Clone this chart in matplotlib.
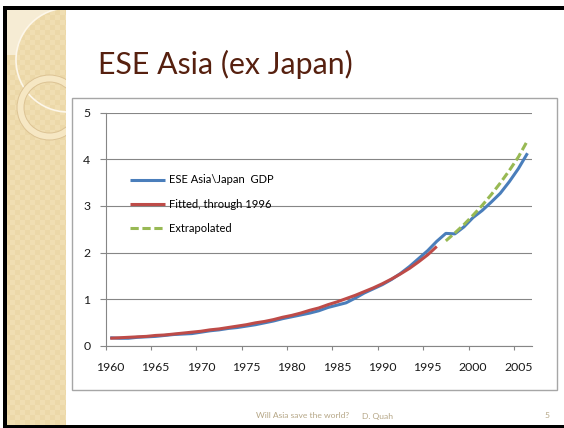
import numpy as np
import matplotlib.pyplot as plt
from matplotlib.patches import Rectangle, Circle, Wedge

# GDP index, ESE Asia excluding Japan, 1960-2006
years = np.arange(1960, 2007)
gdp = [0.17, 0.16, 0.16, 0.18, 0.19, 0.20, 0.22, 0.24, 0.25, 0.26,
       0.29, 0.32, 0.34, 0.37, 0.39, 0.42, 0.45, 0.49, 0.53, 0.58,
       0.62, 0.66, 0.70, 0.75, 0.82, 0.87, 0.92, 1.02, 1.13, 1.22,
       1.31, 1.42, 1.55, 1.70, 1.87, 2.04, 2.24, 2.41, 2.40, 2.55,
       2.75, 2.90, 3.08, 3.27, 3.52, 3.80, 4.13]

# fitted trend through 1996
fit_years = np.arange(1960, 1997)
fitted = [0.16, 0.17, 0.18, 0.19, 0.20, 0.22, 0.23, 0.25, 0.27, 0.29,
          0.31, 0.34, 0.36, 0.39, 0.42, 0.45, 0.49, 0.52, 0.56, 0.61,
          0.65, 0.70, 0.76, 0.81, 0.88, 0.94, 1.01, 1.08, 1.16, 1.24,
          1.33, 1.43, 1.54, 1.66, 1.80, 1.95, 2.13]

# trend carried forward
ext_years = np.arange(1997, 2007)
extrapolated = [2.25, 2.42, 2.60, 2.80, 3.01, 3.24, 3.49, 3.76, 4.05, 4.40]

year_labels = [1960, 1965, 1970, 1975, 1980, 1985, 1990, 1995, 2000, 2005]

W, H = 564, 428
fig = plt.figure(figsize=(W / 100, H / 100), dpi=100)
fig.patch.set_facecolor('white')

# slide background in pixel coordinates
bg = fig.add_axes([0, 0, 1, 1], zorder=0)
bg.set_xlim(0, W)
bg.set_ylim(H, 0)
bg.axis('off')

# beige side strip with a faint checker texture
sx0, sx1, sy0, sy1 = 7, 66, 10, 425
xx, yy = np.meshgrid(np.arange(sx0, sx1) + 0.5, np.arange(sy0, sy1) + 0.5)
chk = ((xx // 5).astype(int) + (yy // 5).astype(int)) % 2
base = np.array([240, 222, 178]) / 255
alt = np.array([236, 216, 168]) / 255
light = np.array([246, 236, 212]) / 255
img = np.where(chk[..., None] == 1, alt, base)
outside = (yy < 55) & (np.hypot(xx - 68, yy - 60) > 52)
img[outside] = light
bg.imshow(img, extent=(sx0, sx1, sy1, sy0), interpolation='nearest', aspect='auto')

clip = Rectangle((sx0, sy0), sx1 - sx0, sy1 - sy0, transform=bg.transData)
arc = Circle((68, 60), 52, fill=False, edgecolor='#fdf7ea', lw=1.2)
ring = Wedge((49.5, 107.5), 32.5, 0, 360, width=7, facecolor='#f6e7c3',
             edgecolor='#dcc394', lw=0.7)
for p in (arc, ring):
    bg.add_patch(p)
    p.set_clip_path(clip)

# black frame lines
bg.add_patch(Rectangle((3, 6), W - 3, 4, color='black', lw=0))
bg.add_patch(Rectangle((3, 6), 4, 421, color='black', lw=0))
bg.add_patch(Rectangle((3, 425), W - 3, 3, color='black', lw=0))

# chart box
bg.add_patch(Rectangle((72, 98), 485, 292, facecolor='white',
                       edgecolor='#a6a6a6', lw=1))

bg.text(98, 74, 'ESE Asia (ex Japan)', fontsize=21.8, family='Lato',
        color='#56200f', ha='left', va='baseline')
bg.text(256, 416, 'Will Asia save the world?', fontsize=6.1, family='Lato',
        color='#b5a686', ha='left', va='center')
bg.text(362, 416, 'D. Quah', fontsize=6.1, family='Lato',
        color='#b5a686', ha='left', va='center')
bg.text(547, 416, '5', fontsize=6.1, family='Lato',
        color='#b5a686', ha='center', va='center')

# chart
ax = fig.add_axes([105.7 / W, 1 - 345.7 / H, 426.3 / W, 233 / H], zorder=1)
ax.patch.set_alpha(0)
gray = '#868686'

ax.plot(years, gdp, color='#4a7ebb', lw=2.2, label='ESE Asia\\Japan  GDP',
        solid_capstyle='butt', zorder=3)
ax.plot(fit_years, fitted, color='#be4b48', lw=2.2, label='Fitted, through 1996',
        solid_capstyle='butt', zorder=4)
ax.plot(ext_years, extrapolated, color='#98b954', lw=2.2, ls=(0, (2.7, 1.2)),
        label='Extrapolated', zorder=3)

ax.set_xlim(1959.5, 2006.5)
ax.set_ylim(0, 5)
ax.set_yticks(range(6))
ax.set_xticks(year_labels)
ax.set_xticks(np.arange(1959.5, 2005, 5), minor=True)
ax.tick_params(axis='x', which='major', length=0, pad=12)
ax.tick_params(axis='x', which='minor', length=3, width=0.8, color=gray)
ax.tick_params(axis='y', length=4, width=0.8, color=gray, pad=7)
ax.tick_params(labelsize=8.8, labelcolor='#1a1a1a')
for lab in ax.get_xticklabels() + ax.get_yticklabels():
    lab.set_family('Lato')

ax.grid(axis='y', color=gray, lw=0.8, zorder=1)
for s in ('top', 'right'):
    ax.spines[s].set_visible(False)
for s in ('left', 'bottom'):
    ax.spines[s].set_color(gray)
    ax.spines[s].set_linewidth(0.8)

ax.legend(loc='upper left', bbox_to_anchor=(0.057, 0.735), frameon=False,
          borderpad=0, borderaxespad=0, handlelength=3.15, handletextpad=0.36,
          labelspacing=1.2, prop={'family': 'Lato', 'size': 8})

fig.savefig('out.png', dpi=100)
